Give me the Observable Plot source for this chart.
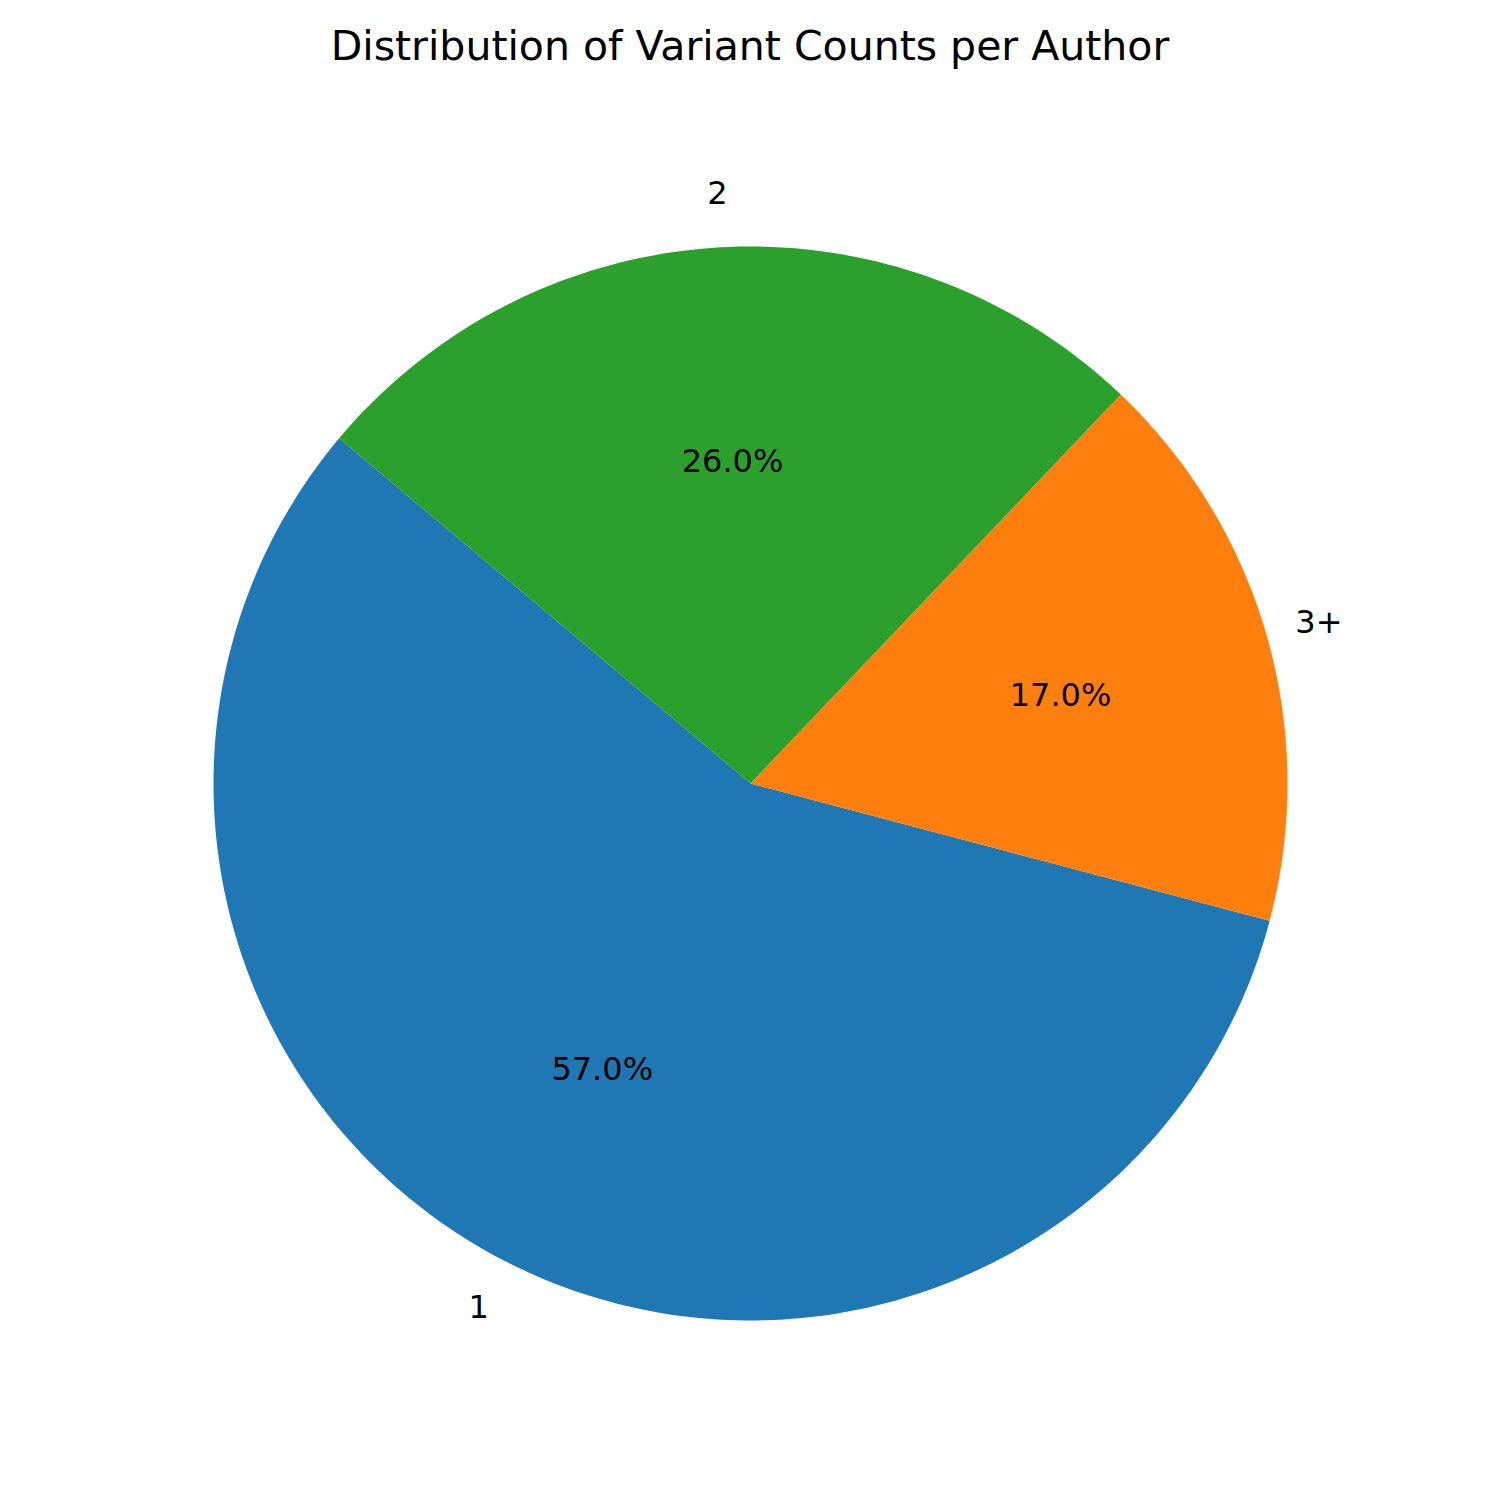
<!DOCTYPE html>
<html>
<head>
<meta charset="utf-8">
<script src="https://cdn.jsdelivr.net/npm/d3@7"></script>
<script src="https://cdn.jsdelivr.net/npm/@observablehq/plot@0.6"></script>
<style>
  body { margin: 0; background: #fff; font-family: "DejaVu Sans", sans-serif; }
  #titulo { height: 120px; display: flex; align-items: center; justify-content: center;
            font-size: 41px; color: #000; padding-top: 22px; box-sizing: border-box; align-items: flex-start; }
</style>
</head>
<body>
<div id="titulo">Distribution of Variant Counts per Author</div>
<div id="grafica"></div>
<script>
  // Datos
  const categorias = ["1", "3+", "2"];
  const porcentaxes = [57.0, 17.0, 26.0];
  const cores = ["#1f77b4", "#ff7f0e", "#2ca02c"];
  const anguloInicio = 140; // graos, sentido antihorario desde o eixo x

  const graos = Math.PI / 180;
  const total = d3.sum(porcentaxes);
  let acum = anguloInicio;
  const porcions = categorias.map((c, i) => {
    const a0 = acum, a1 = acum + (porcentaxes[i] / total) * 360;
    acum = a1;
    return { categoria: c, pct: porcentaxes[i], color: cores[i], a0, a1, am: (a0 + a1) / 2 };
  });

  const cunhas = porcions.map((p) => {
    const pts = [[0, 0]];
    const n = Math.max(2, Math.ceil(p.a1 - p.a0));
    for (let k = 0; k <= n; k++) {
      const a = (p.a0 + (p.a1 - p.a0) * k / n) * graos;
      pts.push([Math.cos(a), Math.sin(a)]);
    }
    pts.push([0, 0]);
    return { type: "Feature", properties: p, geometry: { type: "Polygon", coordinates: [pts] } };
  });

  const R = 537;
  const W = 1500, H = 1380, cy = 663;
  const dominio = { type: "Polygon", coordinates: [[
    [-W / 2 / R, cy / R], [W / 2 / R, cy / R], [W / 2 / R, -(H - cy) / R], [-W / 2 / R, -(H - cy) / R], [-W / 2 / R, cy / R]
  ]] };

  const etiquetas = porcions.map((p) => ({
    x: 1.1 * Math.cos(p.am * graos), y: 1.1 * Math.sin(p.am * graos), t: p.categoria
  }));
  const pcts = porcions.map((p) => ({
    x: 0.6 * Math.cos(p.am * graos), y: 0.6 * Math.sin(p.am * graos), t: p.pct.toFixed(1) + "%"
  }));

  const fonte = { fontFamily: "DejaVu Sans, sans-serif" };
  const grafica = Plot.plot({
    width: W, height: H, margin: 0,
    projection: { type: "reflect-y", domain: dominio, inset: 0 },
    style: { background: "#fff", ...fonte },
    marks: [
      Plot.geo(cunhas, { fill: (d) => d.properties.color, stroke: "none" }),
      Plot.text(etiquetas, { x: "x", y: "y", text: "t", fontSize: 32, fill: "#000",
        textAnchor: (d) => (d.x > 0 ? "start" : "end") }),
      Plot.text(pcts, { x: "x", y: "y", text: "t", fontSize: 32, fill: "#000" })
    ]
  });
  document.getElementById("grafica").appendChild(grafica);
</script>
</body>
</html>
